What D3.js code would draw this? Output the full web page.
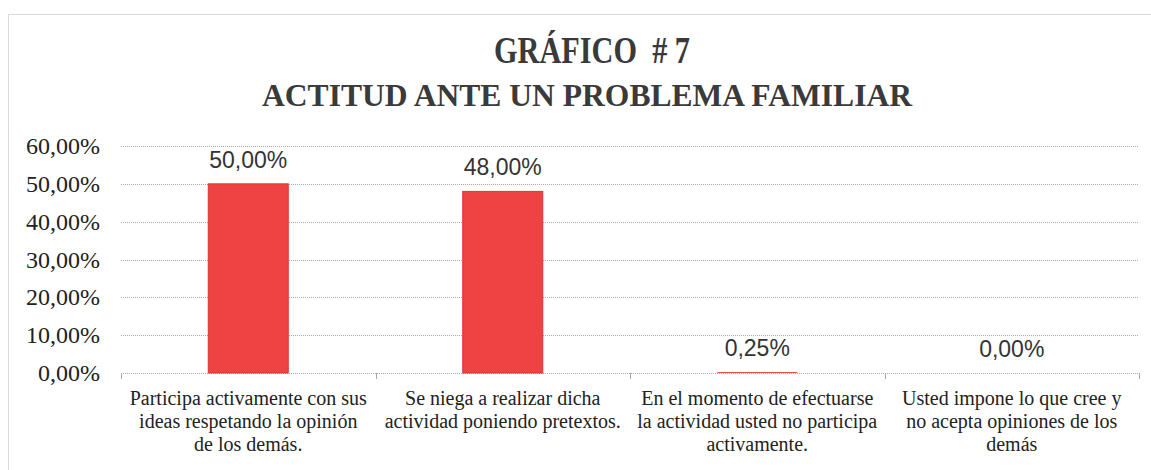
<!DOCTYPE html>
<html>
<head>
<meta charset="utf-8">
<script src="https://cdn.jsdelivr.net/npm/d3@7"></script>
<style>
  body { margin: 0; background: #fff; }
  svg { display: block; }
</style>
</head>
<body>
<svg id="chart" width="1151" height="470"></svg>
<script>
// data
const categories = [
  ["Participa activamente con sus", "ideas respetando la opinión", "de los demás."],
  ["Se niega a realizar dicha", "actividad poniendo pretextos."],
  ["En el momento de efectuarse", "la actividad usted no participa", "activamente."],
  ["Usted impone lo que cree y", "no acepta opiniones de los", "demás"]
];
const values = [50.00, 48.00, 0.25, 0.00];
const valueLabels = ["50,00%", "48,00%", "0,25%", "0,00%"];
const yTicks = [0, 10, 20, 30, 40, 50, 60];

const svg = d3.select("#chart");
const m = { left: 121, right: 12, top: 146, bottom: 97 };
const width = +svg.attr("width") - m.left - m.right;
const height = +svg.attr("height") - m.top - m.bottom;

// outer frame (dotted, runs off the right edge)
svg.append("rect")
    .attr("x", 8.5).attr("y", 14.5)
    .attr("width", 1160).attr("height", 470)
    .attr("fill", "none")
    .attr("stroke", "#b5b5b5")
    .attr("stroke-dasharray", "1,1");

// titles (tall, narrow lettering)
svg.append("text")
    .attr("x", 592).attr("y", 63)
    .attr("text-anchor", "middle")
    .style("white-space", "pre")
    .attr("font-family", "'Liberation Serif', 'Times New Roman', serif")
    .attr("font-weight", "bold")
    .attr("font-size", 37)
    .attr("fill", "#3a3a3a")
    .attr("textLength", 196)
    .attr("lengthAdjust", "spacingAndGlyphs")
    .text("GRÁFICO  # 7");

svg.append("text")
    .attr("x", 587).attr("y", 106)
    .attr("text-anchor", "middle")
    .attr("font-family", "'Liberation Serif', 'Times New Roman', serif")
    .attr("font-weight", "bold")
    .attr("font-size", 31)
    .attr("fill", "#3a3a3a")
    .attr("textLength", 650)
    .attr("lengthAdjust", "spacingAndGlyphs")
    .text("ACTITUD ANTE UN PROBLEMA FAMILIAR");

const g = svg.append("g").attr("transform", `translate(${m.left},${m.top})`);

const x = d3.scaleBand().domain(d3.range(categories.length)).range([0, width]).paddingInner(0).paddingOuter(0);
const y = d3.scaleLinear().domain([0, 60]).range([height, 0]);

// gridlines
g.selectAll(".grid")
    .data(yTicks)
    .join("line")
    .attr("class", "grid")
    .attr("x1", 0).attr("x2", width)
    .attr("y1", d => Math.round(y(d)) + 0.5)
    .attr("y2", d => Math.round(y(d)) + 0.5)
    .attr("stroke", "#a8a8a8")
    .attr("stroke-dasharray", "1,1");

// category tick marks on the x axis
g.selectAll(".xtick")
    .data(d3.range(categories.length + 1))
    .join("line")
    .attr("class", "xtick")
    .attr("x1", d => Math.round(d * x.step()) + 0.5)
    .attr("x2", d => Math.round(d * x.step()) + 0.5)
    .attr("y1", height).attr("y2", height + 6)
    .attr("stroke", "#a8a8a8");

// y axis labels
g.selectAll(".ylab")
    .data(yTicks)
    .join("text")
    .attr("class", "ylab")
    .attr("x", -21)
    .attr("y", d => y(d) + 8)
    .attr("text-anchor", "end")
    .attr("font-family", "'Liberation Serif', 'Times New Roman', serif")
    .attr("font-size", 24)
    .attr("fill", "#222")
    .text(d => d.toFixed(2).replace(".", ",") + "%");

// bars
const barW = 80;
g.selectAll(".bar")
    .data(values)
    .join("rect")
    .attr("class", "bar")
    .attr("x", (d, i) => x(i) + x.bandwidth() / 2 - barW / 2)
    .attr("width", barW)
    .attr("y", d => y(d))
    .attr("height", d => height - y(d))
    .attr("fill", "#ef4242")
    .attr("stroke", "#d93636")
    .attr("stroke-width", d => d > 1 ? 1 : 0);

// value labels
g.selectAll(".vlab")
    .data(values)
    .join("text")
    .attr("class", "vlab")
    .attr("x", (d, i) => x(i) + x.bandwidth() / 2)
    .attr("y", d => y(d) - 16)
    .attr("text-anchor", "middle")
    .attr("font-family", "'Liberation Sans', Arial, sans-serif")
    .attr("font-size", 23)
    .attr("fill", "#333")
    .text((d, i) => valueLabels[i]);

// category labels
const cat = g.selectAll(".clab")
    .data(categories)
    .join("text")
    .attr("class", "clab")
    .attr("text-anchor", "middle")
    .attr("font-family", "'Liberation Serif', 'Times New Roman', serif")
    .attr("font-size", 20)
    .attr("fill", "#222");

cat.selectAll("tspan")
    .data((d, i) => d.map(t => ({ t, i })))
    .join("tspan")
    .attr("x", d => x(d.i) + x.bandwidth() / 2)
    .attr("y", (d, j) => height + 32 + j * 23)
    .text(d => d.t);
</script>
</body>
</html>
